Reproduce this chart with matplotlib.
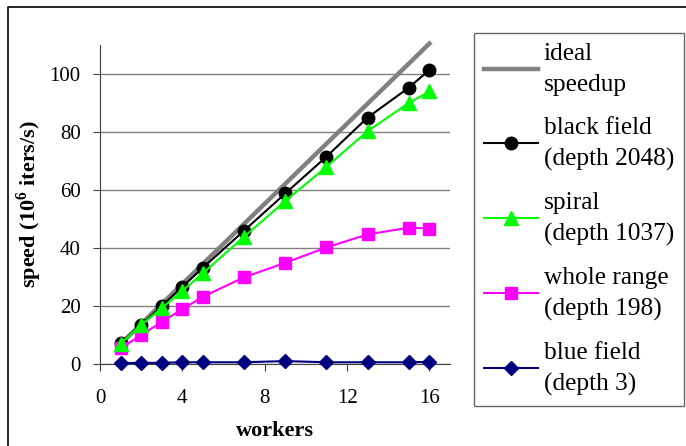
import numpy as np
import matplotlib.pyplot as plt
from matplotlib.lines import Line2D

plt.rcParams['font.family'] = ['Liberation Serif', 'DejaVu Serif']
plt.rcParams['mathtext.fontset'] = 'custom'
plt.rcParams['mathtext.rm'] = 'Liberation Serif'
plt.rcParams['mathtext.bf'] = 'Liberation Serif:bold'

workers = [1, 2, 3, 4, 5, 7, 9, 11, 13, 15, 16]
ideal_x = [1, 16]
ideal_y = [6.9, 110.5]
black_field = [7.2, 13.4, 20.0, 26.6, 33.2, 46.0, 58.8, 71.5, 85.0, 95.3, 101.4]
spiral = [7.0, 13.4, 19.3, 25.2, 31.3, 43.9, 56.2, 68.0, 80.3, 90.0, 94.0]
whole_range = [5.4, 10.0, 14.5, 18.9, 23.2, 29.9, 34.9, 40.2, 44.7, 47.0, 46.7]
blue_field = [0.3, 0.4, 0.4, 0.6, 0.6, 0.6, 1.0, 0.6, 0.6, 0.6, 0.7]

fig = plt.figure(figsize=(6.86, 4.46), dpi=100)
ax = fig.add_axes([100/686, 82/446, 350/686, 319/446])

ax.plot(ideal_x, ideal_y, color='#808080', lw=3.2, label='ideal\nspeedup', zorder=3)
ax.plot(workers, black_field, color='black', lw=1.5, marker='o', ms=9,
        label='black field\n(depth 2048)', zorder=4)
ax.plot(workers, spiral, color='#00ff00', lw=1.5, marker='^', ms=9.5,
        label='spiral\n(depth 1037)', zorder=5)
ax.plot(workers, whole_range, color='#ff00ff', lw=1.5, marker='s', ms=9,
        label='whole range\n(depth 198)', zorder=4)
ax.plot(workers, blue_field, color='#000080', lw=1.5, marker='D', ms=7.5,
        label='blue field\n(depth 3)', zorder=4)

ax.set_xlim(0, 17)
ax.set_ylim(0, 110)
ax.set_xticks([0, 4, 8, 12, 16])
ax.set_yticks([0, 20, 40, 60, 80, 100])
ax.yaxis.grid(True, color='#808080', lw=1)
ax.set_axisbelow(True)
for s in ['top', 'right']:
    ax.spines[s].set_visible(False)
for s in ['left', 'bottom']:
    ax.spines[s].set_color('#404040')
ax.tick_params(direction='out', length=5, labelsize=15, color='#404040')
ax.tick_params(axis='x', pad=13)
ax.tick_params(axis='y', pad=9)
for l in ax.lines:
    l.set_clip_on(False)

ax.set_xlabel('workers', fontsize=16, fontweight='bold', labelpad=9)
ax.set_ylabel(r'speed (10$^{\mathbf{6}}$ iters/s)', fontsize=16, fontweight='bold', labelpad=4)

leg = fig.legend(loc='upper left', bbox_to_anchor=(474/686, 1 - 33/446),
                 prop={'family': 'Liberation Serif', 'size': 18.3},
                 frameon=True, fancybox=False, handlelength=2.1,
                 handletextpad=0.25, labelspacing=0.83, borderpad=0.4,
                 borderaxespad=0)
for t in leg.get_texts():
    t.set_linespacing(1.5)
leg.get_frame().set_edgecolor('#404040')
leg.get_frame().set_linewidth(1)

fig.add_artist(Line2D([8/686, 8/686, 1], [0, 1 - 7/446, 1 - 7/446],
                      color='black', lw=1.2, transform=fig.transFigure))

fig.savefig('out.png', dpi=100)
